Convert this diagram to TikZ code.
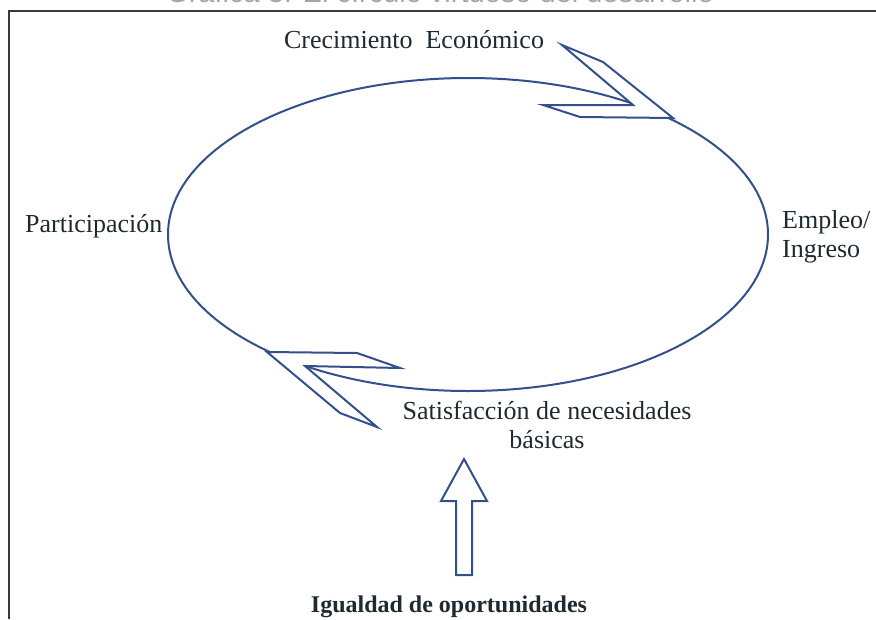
\documentclass[tikz,border=0pt]{standalone}
\usepackage{fontspec}
\setmainfont{Liberation Serif}
\newfontfamily\titlefont{Liberation Sans}
\usetikzlibrary{shapes.geometric}
\definecolor{cycblue}{HTML}{34508C}
\definecolor{txt}{HTML}{1E2A30}
\definecolor{framegray}{HTML}{3C3C3C}
\begin{document}
\begin{tikzpicture}[x=1pt,y=-1pt,
  lbl/.style={text=txt, font=\fontsize{26}{29}\selectfont, inner sep=0pt, align=center},
  cyclebox/.style={draw=cycblue, line width=2pt},
  chev/.style={draw=cycblue, line width=2pt, fill=white, line join=miter}]
\useasboundingbox (0,0) rectangle (876,619);
\begin{scope}
  \clip (0,0) rectangle (876,9);
  \node[font=\titlefont\fontsize{29}{30}\selectfont, text=gray!70, anchor=base, inner sep=0pt] (title) at (440,2) {Gráfica 3: El círculo virtuoso del desarrollo};
\end{scope}
\draw[framegray, line width=2pt] (9,619) -- (9,11) -- (876,11);
\node[ellipse, cyclebox, minimum width=600pt, minimum height=313pt, inner sep=0pt] (cyc) at (468,234.5) {};
\draw[chev] (562,45) -- (603,62) -- (673,118) -- (580,117) -- (543,105) -- (633,105) -- cycle;
\draw[chev] (267,352) -- (357,353) -- (400,368) -- (305,366) -- (377,427) -- (340,413) -- cycle;
\draw[chev] (464,459) -- (487,501) -- (472,501) -- (472,575) -- (456,575) -- (456,501) -- (441,501) -- cycle;
\node[lbl, anchor=base] (growth) at (414,48) {Crecimiento\hspace{0.5em}Económico};
\node[lbl, anchor=base west] (part) at (25,232) {Participación};
\node[lbl, anchor=base west, align=left] (emp) at (782,257) {Empleo/\\Ingreso};
\node[lbl, anchor=base] (sat) at (547,448) {Satisfacción de necesidades\\básicas};
\node[lbl, anchor=base, font=\fontsize{24}{29}\selectfont\bfseries] (igual) at (449,612) {Igualdad de oportunidades};
\end{tikzpicture}
\end{document}
